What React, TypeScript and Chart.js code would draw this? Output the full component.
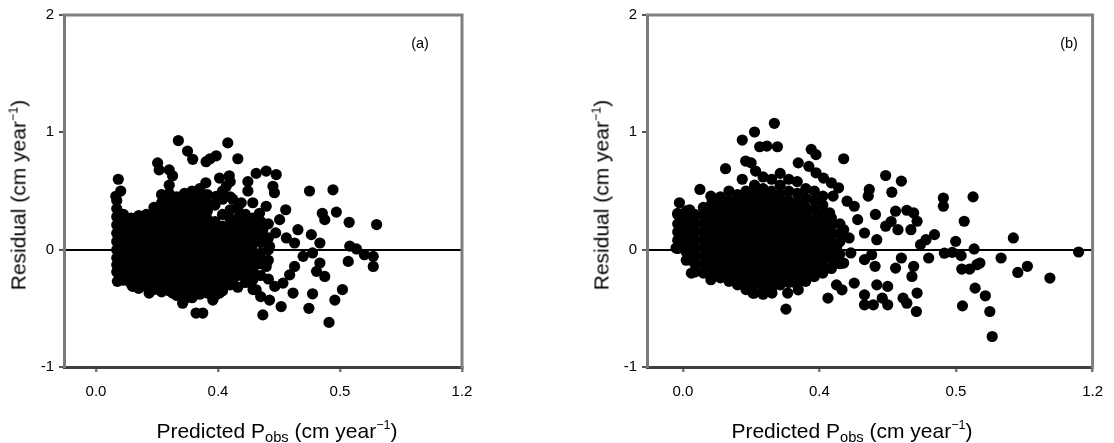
import React, { useEffect, useRef } from "react";
import { Chart, registerables } from "chart.js";

Chart.register(...registerables);

const xTickValues = [0, 0.4, 0.8, 1.2];
const xTickLabels = ["0.0", "0.4", "0.5", "1.2"];
const yTickValues = [-1, 0, 1, 2];
const yTickLabels = ["-1", "0", "1", "2"];

// Panel (a): individually read points [predicted, residual]
const pointsA: [number, number][] = [
  [0.27, 0.93], [0.432, 0.91], [0.3, 0.84], [0.317, 0.77], [0.361, 0.75], [0.394, 0.8], [0.374, 0.775],
  [0.465, 0.775], [0.202, 0.74], [0.207, 0.68], [0.24, 0.68], [0.251, 0.63], [0.525, 0.65], [0.558, 0.67],
  [0.591, 0.64], [0.498, 0.58], [0.437, 0.63], [0.405, 0.61], [0.36, 0.57], [0.073, 0.6], [0.065, 0.455],
  [0.081, 0.5], [0.58, 0.54], [0.585, 0.485], [0.7, 0.5], [0.777, 0.51], [0.788, 0.32], [0.742, 0.31],
  [0.75, 0.256], [0.83, 0.233], [0.92, 0.214], [0.832, 0.03], [0.854, 0.006], [0.88, -0.043], [0.909, -0.057],
  [0.827, -0.1], [0.909, -0.143], [0.808, -0.34], [0.783, -0.43], [0.71, -0.376], [0.698, -0.5], [0.764, -0.62],
  [0.646, -0.37], [0.635, -0.214], [0.662, 0.17], [0.706, 0.128], [0.734, 0.057], [0.651, 0.057], [0.624, 0.1],
  [0.622, 0.34], [0.602, 0.256], [0.589, 0.143], [0.679, -0.057], [0.71, -0.028], [0.734, -0.114], [0.723, -0.185],
  [0.75, -0.228], [0.651, -0.143], [0.607, -0.485], [0.569, -0.43], [0.547, -0.556], [0.613, -0.285], [0.586, -0.313],
  [0.525, -0.342], [0.514, -0.256], [0.492, -0.214], [0.328, -0.54], [0.35, -0.54], [0.284, -0.456], [0.383, -0.43],
  [0.07, -0.27], [0.558, -0.143], [0.536, -0.057], [0.569, 0.028], [0.547, 0.17], [0.514, 0.2], [0.536, 0.31],
  [0.514, 0.4], [0.558, 0.37], [0.498, 0.5], [0.448, 0.43], [0.476, 0.4], [0.427, 0.54], [0.394, 0.455],
  [0.47, 0.285], [0.525, 0.085], [0.487, -0.028], [0.481, -0.143], [0.448, -0.256], [0.405, -0.37], [0.339, -0.37],
  [0.251, -0.37], [0.174, -0.37], [0.12, -0.313], [0.109, -0.256],
];

// Panel (a): dense cloud, read column by column [predicted, residuals...]
const cloudA: [number, number[]][] = [
  [0.068, [0.42, 0.35, 0.28, 0.21, 0.14, 0.07, 0.0, -0.07, -0.13, -0.19]],
  [0.09, [0.3, 0.23, 0.16, 0.09, 0.02, -0.05, -0.12, -0.19, -0.26]],
  [0.115, [0.27, 0.2, 0.13, 0.06, -0.01, -0.08, -0.15, -0.22, -0.29]],
  [0.14, [0.29, 0.22, 0.15, 0.08, 0.01, -0.06, -0.13, -0.2, -0.27, -0.33]],
  [0.165, [0.3, 0.24, 0.17, 0.1, 0.03, -0.04, -0.11, -0.18, -0.25, -0.31]],
  [0.19, [0.36, 0.29, 0.22, 0.15, 0.08, 0.01, -0.06, -0.13, -0.2, -0.27, -0.34]],
  [0.215, [0.47, 0.4, 0.33, 0.26, 0.19, 0.12, 0.05, -0.02, -0.09, -0.16, -0.23, -0.3, -0.36]],
  [0.24, [0.55, 0.48, 0.41, 0.34, 0.27, 0.2, 0.13, 0.06, -0.01, -0.08, -0.15, -0.22, -0.29, -0.35]],
  [0.265, [0.45, 0.38, 0.31, 0.24, 0.17, 0.1, 0.03, -0.04, -0.11, -0.18, -0.25, -0.32, -0.39]],
  [0.29, [0.48, 0.41, 0.34, 0.27, 0.2, 0.13, 0.06, -0.01, -0.08, -0.15, -0.22, -0.29, -0.36, -0.42]],
  [0.315, [0.5, 0.43, 0.36, 0.29, 0.22, 0.15, 0.08, 0.01, -0.06, -0.13, -0.2, -0.27, -0.34, -0.41]],
  [0.34, [0.52, 0.45, 0.38, 0.31, 0.24, 0.17, 0.1, 0.03, -0.04, -0.11, -0.18, -0.25, -0.32, -0.38]],
  [0.365, [0.47, 0.4, 0.33, 0.26, 0.19, 0.12, 0.05, -0.02, -0.09, -0.16, -0.23, -0.3, -0.37]],
  [0.39, [0.38, 0.24, 0.17, 0.1, 0.03, -0.04, -0.11, -0.18, -0.25, -0.32, -0.39]],
  [0.415, [0.5, 0.43, 0.3, 0.2, 0.13, 0.06, -0.01, -0.08, -0.15, -0.22, -0.29, -0.35]],
  [0.44, [0.58, 0.45, 0.34, 0.26, 0.19, 0.12, 0.05, -0.02, -0.09, -0.16, -0.23, -0.3]],
  [0.465, [0.36, 0.27, 0.2, 0.13, 0.06, -0.01, -0.08, -0.15, -0.22, -0.32]],
  [0.49, [0.3, 0.22, 0.15, 0.08, 0.01, -0.06, -0.13, -0.28]],
  [0.515, [0.27, 0.2, 0.12, 0.05, -0.02, -0.1, -0.18, -0.34]],
  [0.54, [0.24, 0.14, 0.06, -0.03, -0.12, -0.22, -0.4]],
  [0.565, [0.22, 0.1, 0.0, -0.09, -0.25]],
];

// Panel (b): individually read points
const pointsB: [number, number][] = [
  [0.268, 1.077], [0.21, 1.003], [0.174, 0.934], [0.225, 0.877], [0.246, 0.883], [0.277, 0.877], [0.184, 0.755],
  [0.2, 0.74], [0.213, 0.67], [0.174, 0.6], [0.125, 0.69], [0.376, 0.855], [0.39, 0.81], [0.471, 0.775],
  [0.338, 0.74], [0.369, 0.71], [0.412, 0.61], [0.39, 0.655], [0.594, 0.632], [0.64, 0.584], [0.612, 0.49],
  [0.546, 0.513], [0.543, 0.456], [0.456, 0.527], [0.481, 0.413], [0.502, 0.37], [0.763, 0.44], [0.763, 0.37],
  [0.85, 0.45], [0.824, 0.242], [0.623, 0.328], [0.656, 0.336], [0.676, 0.313], [0.686, 0.242], [0.668, 0.17],
  [0.564, 0.3], [0.594, 0.2], [0.63, 0.17], [0.61, 0.24], [0.737, 0.128], [0.712, 0.085], [0.696, 0.043],
  [0.799, 0.071], [0.766, -0.03], [0.789, -0.023], [0.815, -0.051], [0.853, 0.006], [0.861, -0.128], [0.817, -0.165],
  [0.84, -0.165], [0.87, -0.114], [0.968, 0.1], [0.932, -0.071], [1.009, -0.142], [0.981, -0.194], [1.075, -0.242],
  [1.159, -0.02], [0.856, -0.328], [0.886, -0.393], [0.899, -0.527], [0.819, -0.479], [0.906, -0.74], [0.72, -0.071],
  [0.686, -0.37], [0.684, -0.527], [0.656, -0.456], [0.645, -0.413], [0.671, -0.228], [0.676, -0.142], [0.64, -0.071],
  [0.623, -0.157], [0.6, -0.313], [0.6, -0.47], [0.584, -0.413], [0.568, -0.3], [0.558, -0.47], [0.532, -0.47],
  [0.532, -0.385], [0.563, -0.142], [0.553, -0.043], [0.532, -0.085], [0.502, -0.285], [0.466, -0.342], [0.45, -0.3],
  [0.425, -0.413], [0.302, -0.507], [0.307, -0.37], [0.338, -0.342], [0.261, -0.37], [0.205, -0.37], [0.025, -0.2],
  [0.082, -0.256], [-0.02, 0.014], [-0.01, 0.4], [-0.015, 0.31], [0.05, 0.513], [0.082, 0.456], [0.02, 0.34],
  [0.568, 0.085], [0.532, 0.142], [0.512, 0.256], [0.487, 0.1], [0.471, 0.17], [0.451, 0.028], [0.492, -0.028],
  [0.471, -0.114], [0.43, 0.313], [0.44, 0.456], [0.41, 0.456], [0.435, 0.57],
];

// Panel (b): dense cloud, read column by column
const cloudB: [number, number[]][] = [
  [-0.015, [0.3, 0.22, 0.15, 0.08, 0.01]],
  [0.01, [0.33, 0.26, 0.19, 0.12, 0.05, -0.02, -0.09]],
  [0.035, [0.3, 0.23, 0.16, 0.09, 0.02, -0.05, -0.12, -0.19]],
  [0.06, [0.36, 0.29, 0.22, 0.15, 0.08, 0.01, -0.06, -0.13, -0.2]],
  [0.085, [0.4, 0.33, 0.26, 0.19, 0.12, 0.05, -0.02, -0.09, -0.16, -0.23]],
  [0.11, [0.45, 0.38, 0.31, 0.24, 0.17, 0.1, 0.03, -0.04, -0.11, -0.18, -0.24]],
  [0.135, [0.5, 0.42, 0.35, 0.28, 0.21, 0.14, 0.07, 0.0, -0.07, -0.14, -0.21, -0.27]],
  [0.16, [0.47, 0.4, 0.33, 0.26, 0.19, 0.12, 0.05, -0.02, -0.09, -0.16, -0.23, -0.3]],
  [0.185, [0.5, 0.43, 0.36, 0.29, 0.22, 0.15, 0.08, 0.01, -0.06, -0.13, -0.2, -0.27, -0.34]],
  [0.21, [0.55, 0.48, 0.41, 0.34, 0.27, 0.2, 0.13, 0.06, -0.01, -0.08, -0.15, -0.22, -0.29, -0.37]],
  [0.235, [0.62, 0.52, 0.45, 0.38, 0.31, 0.24, 0.17, 0.1, 0.03, -0.04, -0.11, -0.18, -0.25, -0.32, -0.38]],
  [0.26, [0.6, 0.5, 0.43, 0.36, 0.29, 0.22, 0.15, 0.08, 0.01, -0.06, -0.13, -0.2, -0.27, -0.33]],
  [0.285, [0.65, 0.55, 0.47, 0.4, 0.33, 0.26, 0.19, 0.12, 0.05, -0.02, -0.09, -0.16, -0.23, -0.3]],
  [0.31, [0.6, 0.5, 0.42, 0.35, 0.28, 0.21, 0.14, 0.07, 0.0, -0.07, -0.14, -0.21, -0.28]],
  [0.335, [0.58, 0.48, 0.4, 0.33, 0.26, 0.19, 0.12, 0.05, -0.02, -0.09, -0.16, -0.23, -0.3]],
  [0.36, [0.52, 0.44, 0.36, 0.29, 0.22, 0.15, 0.08, 0.01, -0.06, -0.13, -0.2, -0.27]],
  [0.385, [0.5, 0.42, 0.34, 0.26, 0.19, 0.12, 0.05, -0.02, -0.09, -0.16, -0.23]],
  [0.41, [0.38, 0.3, 0.22, 0.15, 0.08, 0.01, -0.06, -0.13, -0.2]],
  [0.435, [0.27, 0.2, 0.13, 0.06, -0.01, -0.08, -0.16]],
  [0.46, [0.22, 0.14, 0.07, -0.04, -0.12]],
];

const FONT = "'Liberation Sans', Arial, Helvetica, sans-serif";

// top and right edges of the plot frame (left/bottom come from the axes)
const framePlugin = {
  id: "frame",
  afterDraw(chart: any) {
    const { ctx, chartArea } = chart;
    const { left, right, top, bottom } = chartArea;
    ctx.save();
    ctx.strokeStyle = "#808080";
    ctx.lineWidth = 3;
    ctx.lineCap = "square";
    ctx.beginPath();
    ctx.moveTo(left, top);
    ctx.lineTo(right, top);
    ctx.lineTo(right, bottom);
    ctx.stroke();
    ctx.restore();
  },
};

type PanelProps = {
  points: [number, number][];
  cloud: [number, number[]][];
  axisWidth: number;
  padRight: number;
  left: number;
};

function Panel({ points, cloud, axisWidth, padRight, left }: PanelProps) {
  const ref = useRef<HTMLCanvasElement | null>(null);
  useEffect(() => {
    if (!ref.current) return;
    const data = [
      ...cloud.flatMap(([x, ys]) => ys.map((y) => ({ x, y }))),
      ...points.map(([x, y]) => ({ x, y })),
    ];
    const chart = new Chart(ref.current, {
      type: "scatter",
      data: {
        datasets: [
          {
            data,
            backgroundColor: "#000",
            borderWidth: 0,
            pointRadius: 5.6,
            pointHoverRadius: 5.6,
          },
        ],
      },
      options: {
        responsive: false,
        animation: false,
        devicePixelRatio: 1,
        layout: { padding: { left: 0, right: padRight, top: 15, bottom: 0 } },
        plugins: { legend: { display: false }, tooltip: { enabled: false }, title: { display: false } },
        scales: {
          x: {
            type: "linear",
            min: -0.105,
            max: 1.2,
            afterBuildTicks: (s: any) => {
              s.ticks = xTickValues.map((v) => ({ value: v }));
            },
            afterFit: (s: any) => {
              s.height = 76;
            },
            ticks: {
              autoSkip: false,
              maxRotation: 0,
              padding: 11,
              color: "#000",
              font: { family: FONT, size: 15 },
              callback: (_v: any, i: number) => xTickLabels[i],
            },
            grid: { drawOnChartArea: false, drawTicks: true, tickLength: 5, tickColor: "#7a7a7a", lineWidth: 2.5 },
            border: { display: true, color: "#404040", width: 3 },
          },
          y: {
            type: "linear",
            min: -1,
            max: 2,
            afterBuildTicks: (s: any) => {
              s.ticks = yTickValues.map((v) => ({ value: v }));
            },
            afterFit: (s: any) => {
              s.width = axisWidth;
            },
            ticks: {
              padding: 5,
              color: "#000",
              font: { family: FONT, size: 15 },
              callback: (v: any) => yTickLabels[yTickValues.indexOf(Number(v))],
            },
            grid: {
              color: (c: any) => (c.tick && c.tick.value === 0 ? "#000" : "rgba(0,0,0,0)"),
              lineWidth: 2,
              drawTicks: true,
              tickLength: 5,
              tickColor: "#555",
            },
            border: { display: true, color: "#7a7a7a", width: 3 },
          },
        },
      },
      plugins: [framePlugin],
    });
    return () => chart.destroy();
  }, [points, cloud, axisWidth, padRight]);
  return (
    <canvas
      ref={ref}
      width={557}
      height={443}
      style={{ position: "absolute", left, top: 0, width: 557, height: 443 }}
    />
  );
}

const supStyle: React.CSSProperties = { fontSize: "0.6em", verticalAlign: "0.65em", lineHeight: 0 };
const subStyle: React.CSSProperties = { fontSize: "0.7em", verticalAlign: "-0.3em", lineHeight: 0 };

function YTitle({ cx, cy }: { cx: number; cy: number }) {
  return (
    <div
      style={{
        position: "absolute",
        left: cx,
        top: cy,
        transform: "translate(-50%, -50%) rotate(-90deg)",
        whiteSpace: "nowrap",
        fontFamily: FONT,
        fontSize: 21,
        lineHeight: 1,
        color: "#000",
      }}
    >
      Residual (cm year<span style={supStyle}>−1</span>)
    </div>
  );
}

function XTitle({ cx, cy }: { cx: number; cy: number }) {
  return (
    <div
      style={{
        position: "absolute",
        left: cx,
        top: cy,
        transform: "translate(-50%, -50%)",
        whiteSpace: "nowrap",
        fontFamily: FONT,
        fontSize: 21,
        lineHeight: 1,
        color: "#000",
      }}
    >
      Predicted P<span style={subStyle}>obs</span> (cm year<span style={supStyle}>−1</span>)
    </div>
  );
}

function PanelTag({ cx, cy, text }: { cx: number; cy: number; text: string }) {
  return (
    <div
      style={{
        position: "absolute",
        left: cx,
        top: cy,
        transform: "translate(-50%, -50%)",
        fontFamily: FONT,
        fontSize: 14.5,
        lineHeight: 1,
        color: "#000",
      }}
    >
      {text}
    </div>
  );
}

export default function App() {
  return (
    <div style={{ position: "fixed", left: 0, top: 0, width: 1114, height: 443, background: "#fff", overflow: "hidden" }}>
      <Panel points={pointsA} cloud={cloudA} axisWidth={64} padRight={95} left={0} />
      <Panel points={pointsB} cloud={cloudB} axisWidth={90} padRight={14} left={557} />
      <YTitle cx={18} cy={195} />
      <YTitle cx={601} cy={195} />
      <XTitle cx={277} cy={430} />
      <XTitle cx={852} cy={430} />
      <PanelTag cx={420} cy={43} text="(a)" />
      <PanelTag cx={1069} cy={43} text="(b)" />
    </div>
  );
}
